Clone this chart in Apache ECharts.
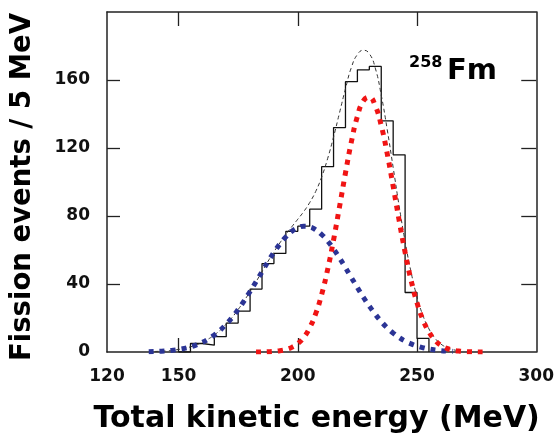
<!DOCTYPE html>
<html>
<head>
<meta charset="utf-8">
<script src="https://cdn.jsdelivr.net/npm/echarts@6/dist/echarts.min.js"></script>
<style>
  html, body { margin: 0; padding: 0; background: #fff; }
  #chart { width: 557px; height: 439px; }
</style>
</head>
<body>
<div id="chart"></div>
<script>
// Histogram of total kinetic energy, 5 MeV bins (lower bin edges)
const binEdges  = [150, 155, 160, 165, 170, 175, 180, 185, 190, 195, 200, 205, 210, 215, 220, 225, 230, 235, 240, 245, 250, 255];
const binCounts = [0, 5, 4, 9, 17, 24, 37, 52, 58, 71, 74, 84, 109, 132, 159, 166, 168, 136, 116, 35, 8, 0];

// Low-energy fit component (blue)
const blueTke = [137.5, 140, 142.5, 145, 147.5, 150, 152.5, 155, 157.5, 160, 162.5, 165, 167.5, 170, 172.5, 175, 177.5, 180, 182.5, 185, 187.5, 190, 192.5, 195, 197.5, 200, 202.5, 205, 207.5, 210, 212.5, 215, 217.5, 220, 222.5, 225, 227.5, 230, 232.5, 235, 237.5, 240, 242.5, 245, 247.5, 250, 252.5, 255, 257.5, 260, 262.5, 265];
const blueFit = [0.19, 0.30, 0.46, 0.70, 1.04, 1.51, 2.16, 3.04, 4.21, 5.71, 7.63, 10.0, 12.9, 16.4, 20.4, 25.0, 30.1, 35.6, 41.3, 47.2, 53.1, 58.6, 63.5, 67.7, 71.0, 73.1, 74.0, 73.6, 71.9, 69.1, 65.3, 60.6, 55.3, 49.6, 43.7, 37.9, 32.2, 27.0, 22.2, 17.9, 14.2, 11.1, 8.5, 6.4, 4.8, 3.5, 2.5, 1.75, 1.21, 0.82, 0.55, 0.36];

// High-energy fit component (red)
const redTke = [182.5, 185, 187.5, 190, 192.5, 195, 197.5, 200, 202.5, 205, 207.5, 210, 212.5, 215, 217.5, 220, 222.5, 225, 227.5, 230, 232.5, 235, 237.5, 240, 242.5, 245, 247.5, 250, 252.5, 255, 257.5, 260, 262.5, 265, 267.5, 270, 272.5, 275, 277.5];
const redFit = [0.03, 0.06, 0.15, 0.33, 0.71, 1.42, 2.72, 4.97, 8.6, 14.3, 22.5, 33.8, 48.4, 65.9, 85.4, 105.3, 123.8, 138.6, 147.7, 149.9, 144.8, 133.2, 116.7, 97.4, 77.4, 58.6, 42.2, 28.9, 18.9, 11.8, 7.0, 3.9, 2.1, 1.08, 0.53, 0.24, 0.11, 0.05, 0.02];

// Total fit (thin dashed)
const sumTke = [140, 142.5, 145, 147.5, 150, 152.5, 155, 157.5, 160, 162.5, 165, 167.5, 170, 172.5, 175, 177.5, 180, 182.5, 185, 187.5, 190, 192.5, 195, 197.5, 200, 202.5, 205, 207.5, 210, 212.5, 215, 217.5, 220, 222.5, 225, 227.5, 230, 232.5, 235, 237.5, 240, 242.5, 245, 247.5, 250, 252.5, 255, 257.5, 260, 262.5, 265, 267.5];
const sumFit = [0.30, 0.46, 0.70, 1.04, 1.51, 2.16, 3.04, 4.21, 5.71, 7.63, 10.0, 12.9, 16.4, 20.4, 25.0, 30.1, 35.6, 41.3, 47.3, 53.3, 58.9, 64.2, 69.1, 73.7, 78.1, 82.6, 87.9, 94.4, 102.9, 113.7, 126.5, 140.7, 154.9, 167.5, 175.0, 177.5, 175.5, 167.0, 151.1, 130.9, 108.5, 85.9, 65.0, 47.0, 32.4, 21.4, 13.6, 8.2, 4.7, 2.7, 1.4, 0.8];

// Axis ticks and labels
const xLabelValues = [120, 150, 200, 250, 300];
const xTickValues = [150, 200, 250];
const yLabelValues = [0, 40, 80, 120, 160];
const yTickValues = [40, 80, 120, 160];

const pairs = (xs, ys) => xs.map((x, i) => [x, ys[i]]);

const FONT = 'DejaVu Sans';
const frameLine = { show: true, onZero: false, lineStyle: { color: '#222', width: 1.5 } };
const tickStyle = { color: '#222', width: 1.3 };

const chart = echarts.init(document.getElementById('chart'), null, { renderer: 'canvas' });

chart.setOption({
  animation: false,
  backgroundColor: '#fff',
  grid: { left: 107, right: 20, top: 12, bottom: 83, containLabel: false },
  xAxis: [
    {
      type: 'value', min: 120, max: 300, position: 'bottom',
      axisLine: frameLine,
      axisTick: { show: true, inside: true, length: 14, customValues: xTickValues, lineStyle: tickStyle },
      axisLabel: {
        customValues: xLabelValues, margin: 16,
        fontFamily: FONT, fontWeight: 'bold', fontSize: 17, color: '#111'
      },
      splitLine: { show: false },
      name: 'Total kinetic energy (MeV)', nameLocation: 'middle', nameGap: 52,
      nameTextStyle: { fontFamily: FONT, fontWeight: 'bold', fontSize: 30, color: '#000', padding: [0, 10, 0, 0] }
    },
    {
      type: 'value', min: 120, max: 300, position: 'top',
      axisLine: frameLine,
      axisTick: { show: true, inside: true, length: 14, customValues: xTickValues, lineStyle: tickStyle },
      axisLabel: { show: false },
      splitLine: { show: false }
    }
  ],
  yAxis: [
    {
      type: 'value', min: 0, max: 200, interval: 40, position: 'left',
      axisLine: frameLine,
      axisTick: { show: true, inside: true, length: 13, customValues: yTickValues, lineStyle: tickStyle },
      axisLabel: {
        customValues: yLabelValues, margin: 17,
        fontFamily: FONT, fontWeight: 'bold', fontSize: 17, color: '#111'
      },
      splitLine: { show: false },
      name: 'Fission events / 5 MeV', nameLocation: 'middle', nameGap: 70, nameRotate: 90,
      nameTextStyle: { fontFamily: FONT, fontWeight: 'bold', fontSize: 27.5, color: '#000', padding: [0, 10, 0, 0] }
    },
    {
      type: 'value', min: 0, max: 200, interval: 40, position: 'right',
      axisLine: frameLine,
      axisTick: { show: true, inside: true, length: 15, customValues: yTickValues, lineStyle: tickStyle },
      axisLabel: { show: false },
      splitLine: { show: false }
    }
  ],
  series: [
    {
      name: 'histogram', type: 'line', step: 'end', symbol: 'none',
      data: pairs(binEdges, binCounts),
      lineStyle: { color: '#111', width: 1.3 }, z: 2
    },
    {
      name: 'total fit', type: 'line', symbol: 'none', smooth: true,
      data: pairs(sumTke, sumFit),
      lineStyle: { color: '#333', width: 1, type: [4, 3] }, z: 3
    },
    {
      name: 'low-TKE component', type: 'line', symbol: 'none', smooth: true,
      data: pairs(blueTke, blueFit),
      lineStyle: { color: '#2b3495', width: 5, type: [5, 6], cap: 'butt' }, z: 4
    },
    {
      name: 'high-TKE component', type: 'line', symbol: 'none', smooth: true,
      data: pairs(redTke, redFit),
      lineStyle: { color: '#f01414', width: 5, type: [5, 6], cap: 'butt' }, z: 5
    }
  ],
  graphic: [
    {
      type: 'text', left: 409, top: 55, z: 10,
      style: { text: '258', fontFamily: FONT, fontWeight: 'bold', fontSize: 16, fill: '#000' }
    },
    {
      type: 'text', left: 447, top: 57, z: 10,
      style: { text: 'Fm', fontFamily: FONT, fontWeight: 'bold', fontSize: 29, fill: '#000' }
    }
  ]
});
</script>
</body>
</html>
